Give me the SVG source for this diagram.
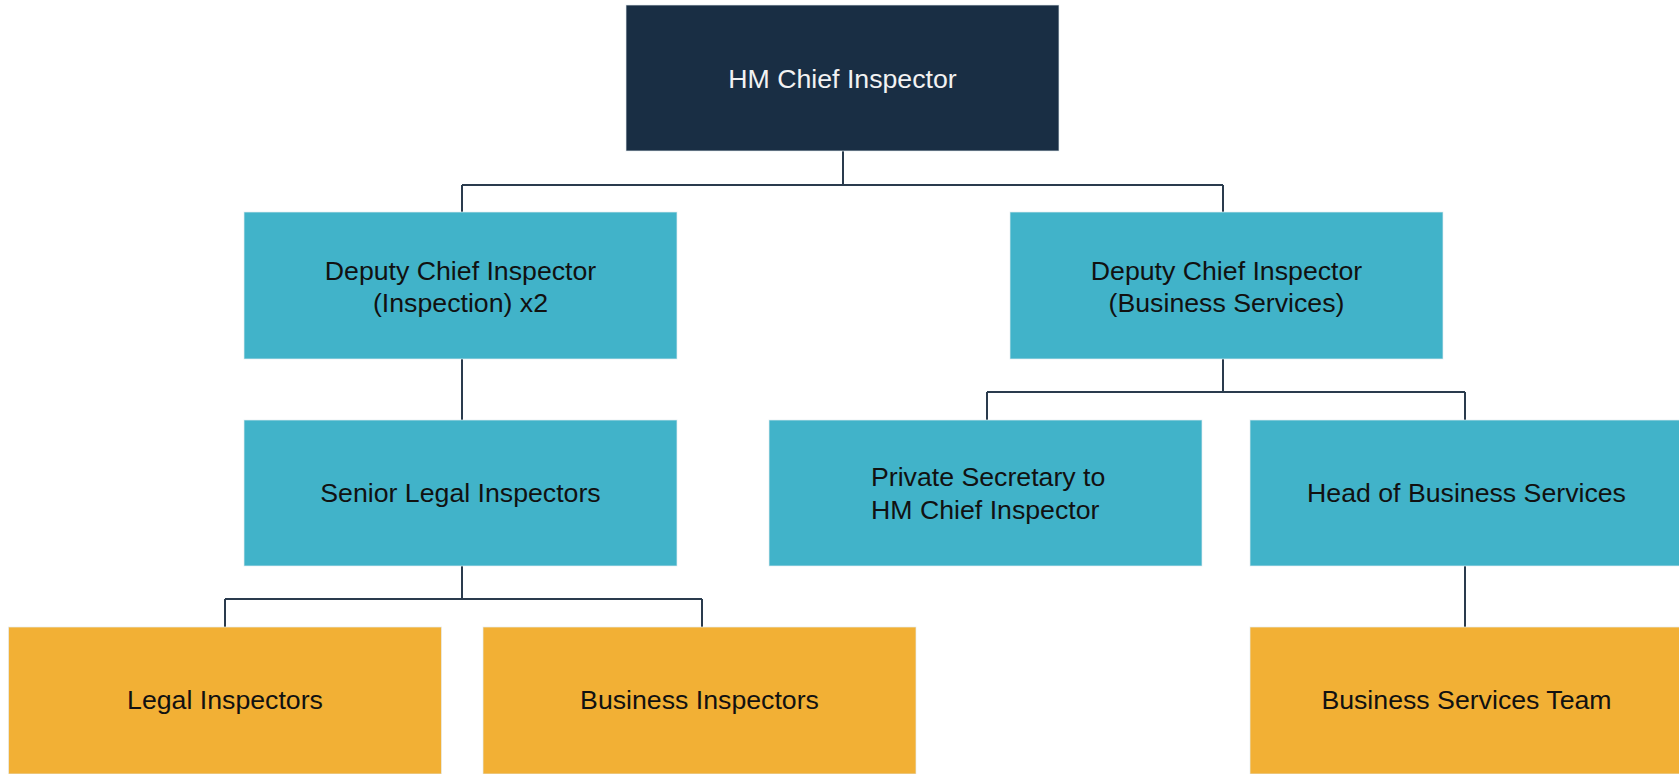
<svg xmlns="http://www.w3.org/2000/svg" width="1679" height="774" viewBox="0 0 1679 774">
<style>
.box{stroke:#e6eef2;stroke-width:1;stroke-opacity:0.7}
.navy{fill:#192e44}
.teal{fill:#41b3c9}
.orange{fill:#f2b035}
.t{font-family:"Liberation Sans",Arial,sans-serif;font-size:26.7px;fill:#111111;text-anchor:middle}
.w{fill:#f2f2f2}
.conn{fill:none;stroke:#2a3b4d;stroke-width:2}
</style>
<rect width="1679" height="774" fill="#ffffff"/>
<g id="connectors" class="conn">
<path d="M843 151V185M462 185H1223M462 185V212M1223 185V212"/>
<path d="M462 359V420"/>
<path d="M1223 359V392M987 392H1465M987 392V420M1465 392V420"/>
<path d="M462 566V599M225 599H702M225 599V627M702 599V627"/>
<path d="M1465 566V627"/>
</g>
<g id="hm-chief-inspector">
<rect class="box navy" x="626" y="5" width="433" height="146"/>
<text class="t w" x="842.5" y="88">HM Chief Inspector</text>
</g>
<g id="dci-inspection">
<rect class="box teal" x="244" y="212" width="433" height="147"/>
<text class="t" x="460.5" y="280">Deputy Chief Inspector</text>
<text class="t" x="460.5" y="312">(Inspection) x2</text>
</g>
<g id="dci-business">
<rect class="box teal" x="1010" y="212" width="433" height="147"/>
<text class="t" x="1226.5" y="280">Deputy Chief Inspector</text>
<text class="t" x="1226.5" y="312">(Business Services)</text>
</g>
<g id="senior-legal">
<rect class="box teal" x="244" y="420" width="433" height="146"/>
<text class="t" x="460.5" y="502">Senior Legal Inspectors</text>
</g>
<g id="private-secretary">
<rect class="box teal" x="769" y="420" width="433" height="146"/>
<text class="t" x="871" y="486" style="text-anchor:start">Private Secretary to</text>
<text class="t" x="871" y="518.5" style="text-anchor:start">HM Chief Inspector</text>
</g>
<g id="head-business">
<rect class="box teal" x="1250" y="420" width="433" height="146"/>
<text class="t" x="1466.5" y="502">Head of Business Services</text>
</g>
<g id="legal-inspectors">
<rect class="box orange" x="8.5" y="627" width="433" height="147"/>
<text class="t" x="225" y="709">Legal Inspectors</text>
</g>
<g id="business-inspectors">
<rect class="box orange" x="483" y="627" width="433" height="147"/>
<text class="t" x="699.5" y="709">Business Inspectors</text>
</g>
<g id="business-services-team">
<rect class="box orange" x="1250" y="627" width="433" height="147"/>
<text class="t" x="1466.5" y="709">Business Services Team</text>
</g>
</svg>
